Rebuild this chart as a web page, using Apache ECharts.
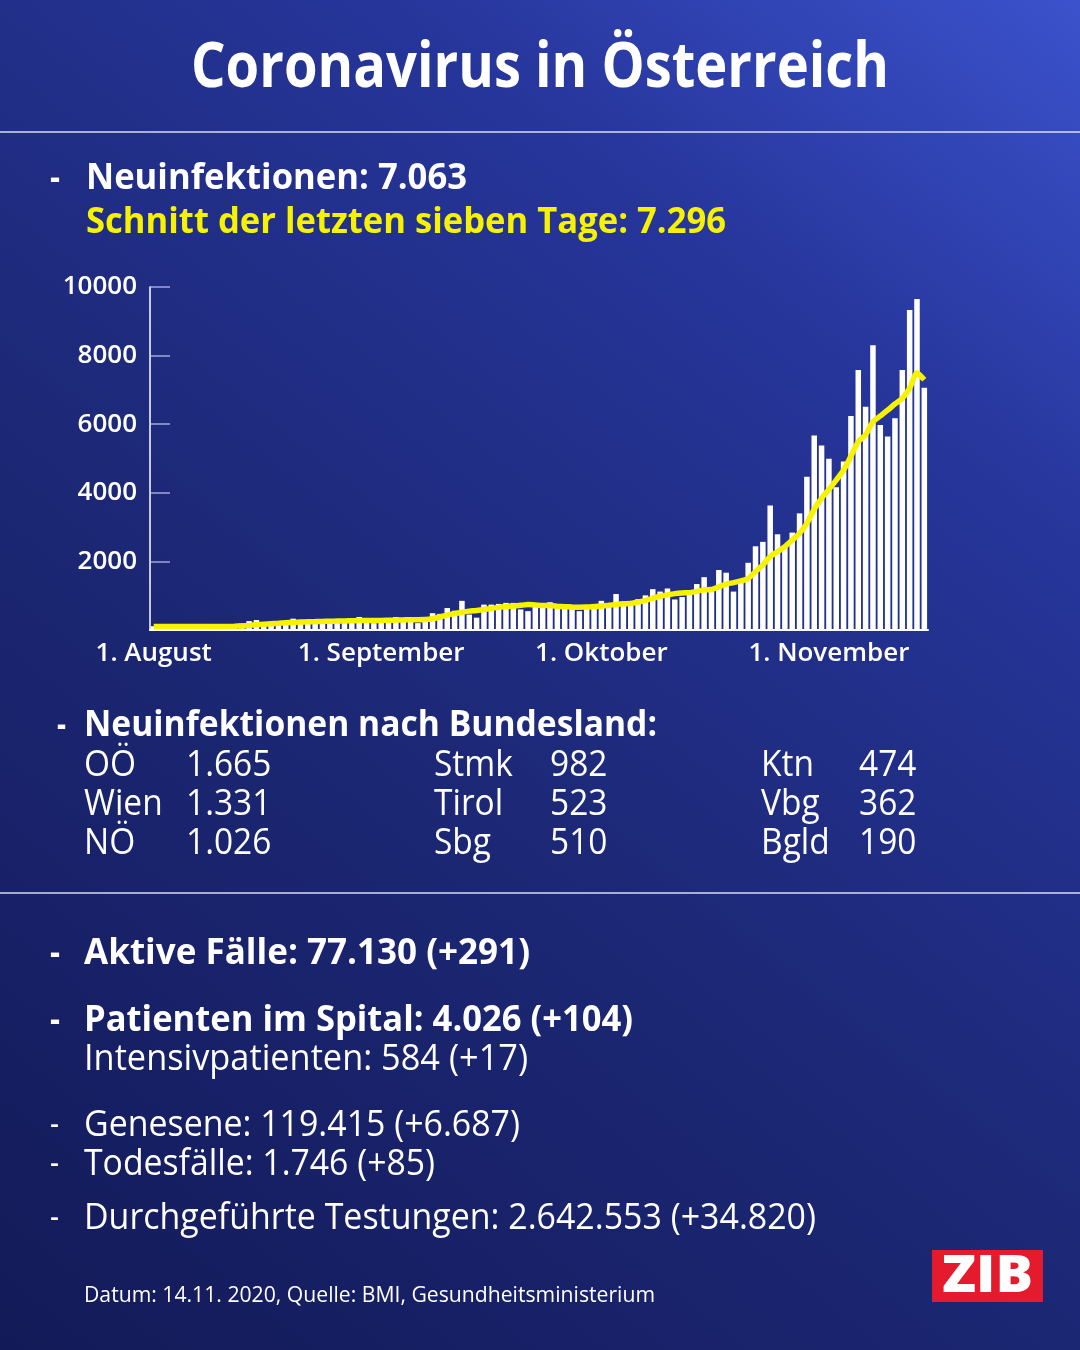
<!DOCTYPE html>
<html>
<head>
<meta charset="utf-8">
<script src="https://cdn.jsdelivr.net/npm/echarts@6/dist/echarts.min.js"></script>
<style>
html,body{margin:0;padding:0;background:#1c2672;}
#c{width:1080px;height:1350px;}
</style>
</head>
<body>
<div id="c"></div>
<script>
// ---- DATA ----
const startDate = [2020, 7, 1]; // 1 Aug 2020 (month index 7)
const dayCount = 106;           // 1 Aug .. 14 Nov
const monthNames = ['August', 'September', 'Oktober', 'November'];

const newCases = [
  // August
  110, 80, 90, 110, 120, 130, 140, 120, 100, 90, 130, 150, 190, 260, 290, 170,
  160, 230, 260, 330, 300, 290, 200, 190, 270, 280, 300, 320, 380, 250, 200,
  // September
  250, 300, 380, 330, 320, 200, 250, 490, 470, 640, 560, 850, 450, 360, 740,
  740, 760, 790, 790, 600, 550, 720, 700, 810, 700, 700, 690, 550, 700, 760,
  // Oktober
  850, 700, 1050, 720, 740, 900, 1010, 1190, 1120, 1210, 890, 960, 1060, 1340,
  1540, 1170, 1750, 1670, 1120, 1480, 1960, 2440, 2570, 3630, 2790, 2450, 2840,
  3400, 4470, 5670, 5380,
  // November
  4990, 4160, 4910, 6240, 7580, 6510, 8300, 5980, 5640, 6170, 7580, 9330, 9650, 7063
];

const sevenDayAvg = [
  // August
  100, 100, 100, 100, 100, 100, 100, 100, 105, 105, 105, 110, 120, 135, 150, 165,
  180, 195, 210, 220, 230, 240, 245, 250, 255, 260, 265, 270, 275, 275, 280,
  // September
  280, 285, 290, 295, 300, 300, 305, 330, 380, 440, 480, 520, 550, 570, 600,
  630, 660, 680, 700, 720, 740, 730, 715, 715, 695, 680, 670, 665, 670, 675,
  // Oktober
  700, 720, 745, 765, 775, 815, 865, 925, 985, 1025, 1060, 1080, 1090, 1130,
  1170, 1180, 1260, 1340, 1380, 1430, 1500, 1700, 1900, 2140, 2280, 2430, 2620,
  2820, 3110, 3520, 3840,
  // November
  4100, 4370, 4660, 5070, 5490, 5690, 6070, 6240, 6410, 6590, 6750, 7050, 7500, 7296
];

const yTicks = [0, 2000, 4000, 6000, 8000, 10000];

const headline = 'Neuinfektionen: 7.063';
const avgLine = 'Schnitt der letzten sieben Tage: 7.296';
const stateTitle = 'Neuinfektionen nach Bundesland:';
const stateNames = [['OÖ', 'Wien', 'NÖ'], ['Stmk', 'Tirol', 'Sbg'], ['Ktn', 'Vbg', 'Bgld']];
const stateValues = [['1.665', '1.331', '1.026'], ['982', '523', '510'], ['474', '362', '190']];

// ---- categories (dates) ----
const categories = [];
for (let i = 0; i < dayCount; i++) {
  const d = new Date(startDate[0], startDate[1], startDate[2] + i);
  categories.push(d.getDate() + '.' + (d.getMonth() + 1) + '.');
}

// ---- text helpers ----
const FAM = '"Open Sans", "Noto Sans", sans-serif';
const mctx = document.createElement('canvas').getContext('2d');
function measure(text, font) { mctx.font = font; return mctx.measureText(text).width; }
const DY = 3;
function T(text, x, y, size, weight, color, targetW, align) {
  const font = weight + ' ' + size + 'px ' + FAM;
  const sx = targetW ? targetW / measure(text, font) : 0.93;
  return {
    type: 'text', x: x, y: y + DY, scaleX: sx, z: 10,
    style: {
      text: text, font: font, fill: color,
      textAlign: align || 'left', textVerticalAlign: 'middle',
      align: align || 'left', verticalAlign: 'middle'
    }
  };
}
function hline(y) {
  return { type: 'line', z: 5, shape: { x1: 0, y1: y, x2: 1080, y2: y },
    style: { stroke: 'rgba(235,240,255,0.9)', lineWidth: 1.5 } };
}

const W = '#ffffff', Y = '#f7f200';
const graphics = [
  T('Coronavirus in Österreich', 540, 66, 63, 700, W, 698, 'center'),
  hline(132),
  T('-', 50, 176, 36, 700, W, 10),
  T(headline, 86, 176, 36, 700, W, 381),
  T(avgLine, 86, 220, 36, 700, Y, 640),
  T('-', 57, 723, 36, 700, W, 9),
  T(stateTitle, 84, 723, 36, 700, W, 573),
  hline(893),
  T('-', 50, 951, 36, 700, W, 10),
  T('Aktive Fälle: 77.130 (+291)', 84, 951, 36, 700, W, 446),
  T('-', 50, 1018, 36, 700, W, 10),
  T('Patienten im Spital: 4.026 (+104)', 84, 1018, 36, 700, W, 549),
  T('Intensivpatienten: 584 (+17)', 84, 1057, 36, 400, W, 444),
  T('-', 50, 1123, 36, 400, W, 9),
  T('Genesene: 119.415 (+6.687)', 84, 1123, 36, 400, W, 436),
  T('-', 50, 1162, 36, 400, W, 9),
  T('Todesfälle: 1.746 (+85)', 84, 1162, 36, 400, W, 351),
  T('-', 50, 1216, 36, 400, W, 9),
  T('Durchgeführte Testungen: 2.642.553 (+34.820)', 84, 1216, 36, 400, W, 732),
  T('Datum: 14.11. 2020, Quelle: BMI, Gesundheitsministerium', 84, 1293, 21, 400, W, 571),
  { type: 'rect', z: 10, shape: { x: 932, y: 1250, width: 111, height: 52 }, style: { fill: '#e31b2c' } },
  T('ZIB', 987.5, 1274, 52, 800, W, 91, 'center')
];

// state table
const colNameX = [84, 434, 761];
const colValX = [186, 550, 859];
const rowY = [763, 802, 841];
for (let c = 0; c < 3; c++) {
  for (let r = 0; r < 3; r++) {
    graphics.push(T(stateNames[c][r], colNameX[c], rowY[r], 36, 400, W, null));
    graphics.push(T(stateValues[c][r], colValX[c], rowY[r], 36, 400, W, null));
  }
}

const monthStarts = {};
categories.forEach((c, i) => { if (c.split('.')[0] === '1') monthStarts[i] = true; });

const chart = echarts.init(document.getElementById('c'), null, { renderer: 'canvas' });
chart.setOption({
  animation: false,
  backgroundColor: {
    type: 'linear', x: 0, y: 1, x2: 1, y2: 0,
    colorStops: [
      { offset: 0, color: '#131a58' },
      { offset: 0.45, color: '#1d2978' },
      { offset: 0.75, color: '#26359a' },
      { offset: 1, color: '#3b52cc' }
    ]
  },
  grid: { left: 150, right: 152, top: 287, bottom: 720 },
  xAxis: {
    type: 'category',
    data: categories,
    boundaryGap: true,
    axisLine: { show: true, lineStyle: { color: '#ffffff', width: 2 } },
    axisTick: { show: false },
    axisLabel: {
      interval: (i) => !!monthStarts[i],
      formatter: (v) => {
        const m = parseInt(v.split('.')[1], 10);
        return '1. ' + monthNames[m - 8];
      },
      color: '#ffffff', fontSize: 26, fontWeight: 600, fontFamily: FAM, margin: 11
    },
    splitLine: { show: false }
  },
  yAxis: {
    type: 'value',
    min: yTicks[0], max: yTicks[yTicks.length - 1], interval: yTicks[1] - yTicks[0],
    axisLine: { show: true, lineStyle: { color: '#ffffff', width: 1.5 } },
    axisTick: { show: true, inside: true, length: 20, lineStyle: { color: 'rgba(200,210,255,0.75)', width: 1.5 } },
    axisLabel: {
      showMinLabel: false,
      formatter: (v) => String(v),
      color: '#ffffff', fontSize: 26, fontWeight: 600, fontFamily: FAM, margin: 13
    },
    splitLine: { show: false }
  },
  series: [
    {
      type: 'bar', data: newCases, barCategoryGap: '25%',
      itemStyle: { color: '#ffffff' }, z: 2
    },
    {
      type: 'line', data: sevenDayAvg, smooth: 0.2, showSymbol: false, symbol: 'none',
      lineStyle: { color: '#f7f200', width: 5.5 }, z: 3
    }
  ],
  graphic: { elements: graphics }
});
</script>
</body>
</html>
